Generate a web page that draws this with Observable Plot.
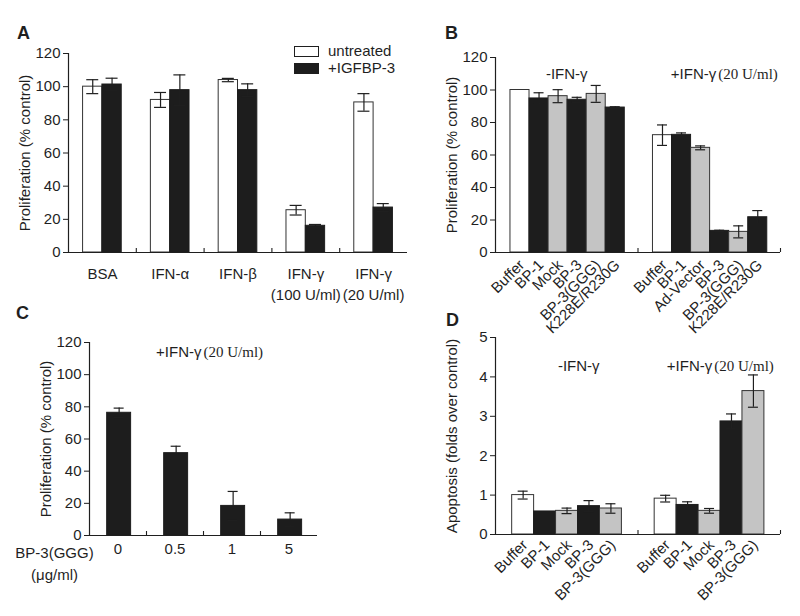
<!DOCTYPE html>
<html>
<head>
<meta charset="utf-8">
<script src="https://cdn.jsdelivr.net/npm/d3@7"></script>
<script src="https://cdn.jsdelivr.net/npm/@observablehq/plot@0.6"></script>
<style>
  html, body { margin: 0; padding: 0; background: #fff; }
  #fig { position: relative; width: 800px; height: 616px; overflow: hidden; background: #fff;
         font-family: "Liberation Sans", Arial, Helvetica, sans-serif; color: #1f1f1f; }
  .panel { position: absolute; }
  .panel svg { background: transparent !important; overflow: visible !important; }
  .letter { position: absolute; font-weight: bold; font-size: 18px; line-height: 18px; z-index: 10; }
  .legend-key { position: absolute; width: 25px; height: 11px; box-sizing: border-box; border: 1px solid #1f1f1f; z-index: 10; }
  .legend-text { position: absolute; font-size: 15px; line-height: 15px; white-space: nowrap; z-index: 10; }
</style>
</head>
<body>
<div id="fig"></div>
<script>
// ---------------- DATA ----------------
// Panel A
const groupsA = ["BSA", "IFN-α", "IFN-β", "IFN-γ\n(100 U/ml)", "IFN-γ\n(20 U/ml)"];
const seriesA = ["untreated", "+IGFBP-3"];
const untreatedA = [100, 92, 104, 25.5, 90.5];
const untreatedErrA = [4.2, 4.5, 1, 2.9, 5.3];
const igfbpA = [101.3, 97.9, 97.9, 16.1, 27.1];
const igfbpErrA = [3.8, 9.2, 3.8, 0.8, 2.4];
const ticksProlif = [0, 20, 40, 60, 80, 100, 120];

// Panel B
const conditions = ["-IFN-γ", "+IFN-γ", "(20 U/ml)"];
const treatmentsB1 = ["Buffer", "BP-1", "Mock", "BP-3", "BP-3(GGG)", "K228E/R230G"];
const valuesB1 = [100, 94.8, 96.2, 94, 97.6, 89.2];
const errB1 = [0, 3.5, 4, 1.5, 5.2, 0.5];
const treatmentsB2 = ["Buffer", "BP-1", "Ad-Vector", "BP-3", "BP-3(GGG)", "K228E/R230G"];
const valuesB2 = [72.2, 72.4, 64.4, 13.3, 12.7, 21.7];
const errB2 = [6.3, 1.2, 1.2, 0.4, 3.7, 4.1];

// Panel C
const dosesC = ["0", "0.5", "1", "5"];
const doseTitleC = "BP-3(GGG)\n(μg/ml)";
const valuesC = [76.3, 51.2, 18.4, 9.9];
const errC = [2.9, 4.3, 9, 4.2];

// Panel D
const treatmentsD = ["Buffer", "BP-1", "Mock", "BP-3", "BP-3(GGG)"];
const valuesD1 = [1.0, 0.585, 0.6, 0.72, 0.66];
const errD1 = [0.1, 0, 0.07, 0.14, 0.12];
const valuesD2 = [0.91, 0.75, 0.6, 2.87, 3.64];
const errD2 = [0.085, 0.08, 0.06, 0.19, 0.41];
const ticksApop = [0, 1, 2, 3, 4, 5];

const yLabelProlif = "Proliferation (% control)";
const yLabelApop = "Apoptosis (folds over control)";

// ---------------- STYLE ----------------
const FONT = "'Liberation Sans', Arial, Helvetica, sans-serif";
const SERIF = "'Liberation Serif', 'Times New Roman', serif";
const INK = "#1f1f1f";
const FILLS = {white: "#ffffff", black: "#1d1d1d", gray: "#c4c4c4"};
const grayNames = ["Mock", "Ad-Vector", "BP-3(GGG)"];
function kindOf(name) {
  if (name === "Buffer" || name === "untreated") return "white";
  if (grayNames.includes(name)) return "gray";
  return "black";
}

const fig = document.getElementById("fig");

function mount(node, left, top, w, h, z) {
  const div = document.createElement("div");
  div.className = "panel";
  div.style.left = left + "px"; div.style.top = top + "px";
  div.style.width = w + "px"; div.style.height = h + "px";
  div.style.zIndex = z;
  node.style.background = "transparent";
  node.style.overflow = "visible";
  div.appendChild(node);
  fig.appendChild(div);
}
function addHTML(cls, text, left, top, extra = {}) {
  const d = document.createElement("div");
  d.className = cls; d.textContent = text;
  d.style.left = left + "px"; d.style.top = top + "px";
  Object.assign(d.style, extra);
  fig.appendChild(d);
}

const svgStyle = `background: transparent; overflow: visible; font-family: ${FONT}; font-size: 15px; color: ${INK};`;

function frameMarks(tickBounds, tickLenUnits) {
  return [
    Plot.ruleX([0], {stroke: INK, strokeWidth: 1.2}),
    Plot.ruleY([0], {stroke: INK, strokeWidth: 1.2}),
    Plot.ruleX(tickBounds, {x: d => d, y1: () => 0, y2: () => tickLenUnits, stroke: INK, strokeWidth: 1.1})
  ];
}
function barMarks(recs, capUnits) {
  const withErr = recs.filter(d => d.err > 0);
  const cx = d => (d.x1 + d.x2) / 2;
  return [
    Plot.rect(recs, {x1: "x1", x2: "x2", y1: () => 0, y2: "value",
      fill: d => FILLS[d.kind], stroke: d => d.kind === "black" ? FILLS.black : "#333", strokeWidth: 1}),
    Plot.ruleX(withErr, {x: cx, y1: d => d.value - d.err, y2: d => d.value + d.err, stroke: INK, strokeWidth: 1.2}),
    Plot.ruleY(withErr, {y: d => d.value + d.err, x1: d => cx(d) - capUnits, x2: d => cx(d) + capUnits, stroke: INK, strokeWidth: 1.2}),
    Plot.ruleY(withErr, {y: d => d.value - d.err, x1: d => cx(d) - capUnits, x2: d => cx(d) + capUnits, stroke: INK, strokeWidth: 1.2})
  ];
}
function yLabelMark(label) {
  return Plot.text([label], {frameAnchor: "left", text: d => d, rotate: -90, dx: -43,
    lineAnchor: "middle", textAnchor: "middle", fontSize: 15, fill: INK});
}

// ---------------- PANEL A ----------------
{
  const W = 420, H = 310, mL = 68, mR = 13, mT = 53, mB = 58;
  const pxPerX = (W - mL - mR) / groupsA.length;
  const pxPerY = (H - mT - mB) / 120;
  const bw = 0.285;
  const recs = [];
  groupsA.forEach((g, i) => {
    [[untreatedA, untreatedErrA], [igfbpA, igfbpErrA]].forEach(([v, e], k) => {
      const x1 = i + 0.5 + (k - 1) * bw;
      recs.push({g: i, series: seriesA[k], kind: kindOf(seriesA[k]), value: v[i], err: e[i], x1, x2: x1 + bw});
    });
  });
  const p = Plot.plot({
    width: W, height: H, marginLeft: mL, marginRight: mR, marginTop: mT, marginBottom: mB,
    style: svgStyle,
    x: {domain: [0, groupsA.length], axis: null},
    y: {domain: [0, 120], ticks: ticksProlif, tickSize: 5, tickPadding: 3, tickFormat: d3.format("d"), label: null},
    marks: [
      ...barMarks(recs, 6 / pxPerX),
      ...frameMarks(d3.range(1, groupsA.length), 4 / pxPerY),
      Plot.text(groupsA, {x: (d, i) => i + 0.5, y: () => 0, text: d => d, dy: 12, lineAnchor: "top",
        lineHeight: 1.4, fontSize: 15, fill: INK}),
      yLabelMark(yLabelProlif)
    ]
  });
  mount(p, 0, 0, W, H, 1);
  const keyA = document.createElement("div"); keyA.className = "legend-key";
  Object.assign(keyA.style, {left: "294px", top: "46px", background: FILLS.white});
  fig.appendChild(keyA);
  const keyB = document.createElement("div"); keyB.className = "legend-key";
  Object.assign(keyB.style, {left: "294px", top: "63px", background: FILLS.black, borderColor: FILLS.black});
  fig.appendChild(keyB);
  addHTML("legend-text", seriesA[0], 328, 43);
  addHTML("legend-text", seriesA[1], 328, 60);
}

// grouped 2-condition panels (B, D)
function groupedPanel({left, top, W, H, mL, mR, mT, mB, ymax, ticks, t1, v1, e1, t2, v2, e2, off, bw, cap,
                       ctrlDx, treatDx, annY, ylabel, labDx, labDy, z}) {
  const pxPerX = (W - mL - mR) / 2;
  const pxPerY = (H - mT - mB) / ymax;
  const recs = [];
  [[t1, v1, e1], [t2, v2, e2]].forEach(([t, v, e], g) => {
    t.forEach((name, k) => {
      const x1 = g + off + k * bw;
      recs.push({g, label: name, kind: kindOf(name), value: v[k], err: e[k], x1, x2: x1 + bw});
    });
  });
  const p = Plot.plot({
    width: W, height: H, marginLeft: mL, marginRight: mR, marginTop: mT, marginBottom: mB,
    style: svgStyle,
    x: {domain: [0, 2], axis: null},
    y: {domain: [0, ymax], ticks, tickSize: 5, tickPadding: 3, tickFormat: d3.format("d"), label: null},
    marks: [
      ...barMarks(recs, cap / pxPerX),
      ...frameMarks([1, 2], 4 / pxPerY),
      Plot.text(recs, {x: d => (d.x1 + d.x2) / 2, y: () => 0, text: "label", rotate: -45,
        textAnchor: "end", lineAnchor: "middle", dx: labDx, dy: labDy, fontSize: 15, fill: INK}),
      Plot.text([conditions[0]], {x: () => 0.5, y: () => annY, text: d => d, dx: ctrlDx,
        textAnchor: "middle", lineAnchor: "middle", fontSize: 15, fill: INK}),
      Plot.text([conditions[1]], {x: () => 1.5, y: () => annY, text: d => d, dx: treatDx,
        textAnchor: "end", lineAnchor: "middle", fontSize: 15, fill: INK}),
      Plot.text([conditions[2]], {x: () => 1.5, y: () => annY, text: d => d, dx: treatDx + 2,
        textAnchor: "start", lineAnchor: "middle", fontSize: 15, fontFamily: SERIF, fill: INK}),
      yLabelMark(ylabel)
    ]
  });
  mount(p, left, top, W, H, z);
}

// ---------------- PANEL B ----------------
groupedPanel({left: 400, top: 0, W: 400, H: 345, mL: 95, mR: 20, mT: 57, mB: 93,
  ymax: 120, ticks: ticksProlif, t1: treatmentsB1, v1: valuesB1, e1: errB1,
  t2: treatmentsB2, v2: valuesB2, e2: errB2, off: 0.105, bw: 0.1337, cap: 5,
  ctrlDx: 0, treatDx: 7, annY: 110, ylabel: yLabelProlif, labDx: 2, labDy: 10, z: 3});

// ---------------- PANEL C ----------------
{
  const W = 400, H = 316, mL = 89, mR = 83, mT = 42, mB = 81;
  const n = dosesC.length;
  const pxPerX = (W - mL - mR) / n;
  const pxPerY = (H - mT - mB) / 120;
  const bw = 0.42;
  const recs = dosesC.map((d, i) => ({dose: d, kind: "black", value: valuesC[i], err: errC[i],
    x1: i + 0.5 - bw / 2 + 0.02, x2: i + 0.5 + bw / 2 + 0.02}));
  const p = Plot.plot({
    width: W, height: H, marginLeft: mL, marginRight: mR, marginTop: mT, marginBottom: mB,
    style: svgStyle,
    x: {domain: [0, n], axis: null},
    y: {domain: [0, 120], ticks: ticksProlif, tickSize: 5, tickPadding: 3, tickFormat: d3.format("d"), label: null},
    marks: [
      ...barMarks(recs, 5 / pxPerX),
      ...frameMarks(d3.range(1, n), 4 / pxPerY),
      Plot.text(dosesC, {x: (d, i) => i + 0.5, y: () => 0, text: d => d, dy: 7.5, lineAnchor: "top",
        fontSize: 15, fill: INK}),
      Plot.text([doseTitleC], {x: () => 0, y: () => 0, text: d => d, dx: -35, dy: 7.5, lineAnchor: "top",
        lineHeight: 1.45, fontSize: 15, fill: INK}),
      Plot.text([conditions[1]], {x: () => n / 2, y: () => 114, text: d => d, dx: -2,
        textAnchor: "end", lineAnchor: "middle", fontSize: 15, fill: INK}),
      Plot.text([conditions[2]], {x: () => n / 2, y: () => 114, text: d => d, dx: 0,
        textAnchor: "start", lineAnchor: "middle", fontSize: 15, fontFamily: SERIF, fill: INK}),
      yLabelMark(yLabelProlif)
    ]
  });
  mount(p, 0, 300, W, H, 1);
}

// ---------------- PANEL D ----------------
groupedPanel({left: 400, top: 300, W: 400, H: 316, mL: 95, mR: 20, mT: 37, mB: 82,
  ymax: 5, ticks: ticksApop, t1: treatmentsD, v1: valuesD1, e1: errD1,
  t2: treatmentsD, v2: valuesD2, e2: errD2, off: 0.117, bw: 0.154, cap: 5,
  ctrlDx: 12, treatDx: 3, annY: 4.27, ylabel: yLabelApop, labDx: 2, labDy: 8, z: 2});

// ---------------- PANEL LETTERS ----------------
addHTML("letter", "A", 17, 24);
addHTML("letter", "B", 445, 24);
addHTML("letter", "C", 16, 304);
addHTML("letter", "D", 446, 311);
</script>
</body>
</html>
